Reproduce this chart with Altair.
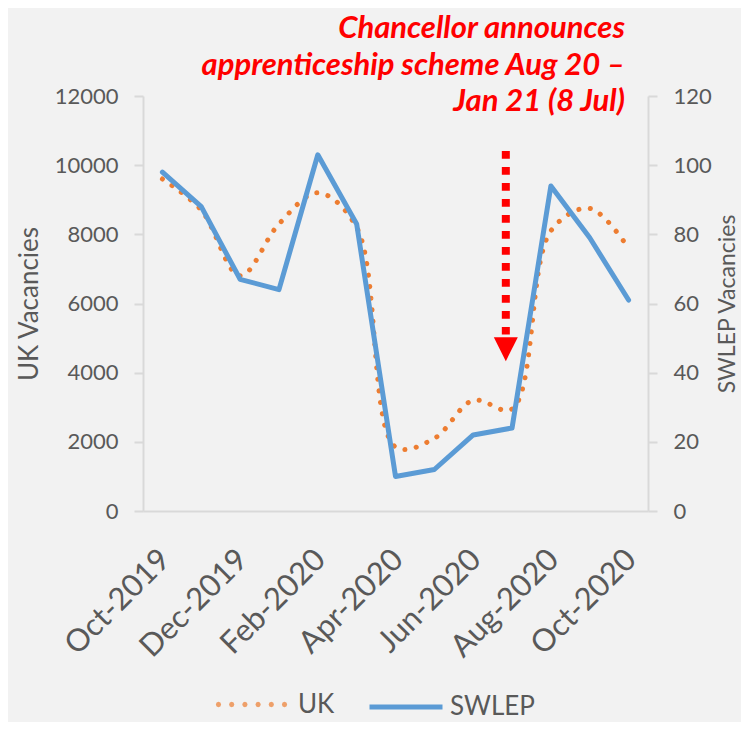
import json
import math
import altair as alt
import pandas as pd

months = ["Oct-2019", "Nov-2019", "Dec-2019", "Jan-2020", "Feb-2020", "Mar-2020",
          "Apr-2020", "May-2020", "Jun-2020", "Jul-2020", "Aug-2020", "Sep-2020", "Oct-2020"]
uk = [9600, 8700, 6800, 8300, 9200, 8200, 1850, 2100, 3200, 2950, 8100, 8750, 7600]
swlep = [98, 88, 67, 64, 103, 83, 10, 12, 22, 24, 94, 79, 61]
title_lines = ["Chancellor announces", "apprenticeship scheme Aug 20 \u2013", "Jan 21 (8 Jul)"]

# annotation arrow (on UK axis scale)
arrow_x = [8.84]
arrow_top = [10410]
arrow_bottom = [5100]
arrow_head = [4680]

df = pd.DataFrame({"idx": list(range(len(months))), "month": months, "uk": uk, "swlep": swlep})
arrow_df = pd.DataFrame({"x": arrow_x, "top": arrow_top, "bottom": arrow_bottom, "head": arrow_head})

FONT = "Lato"
TXT = "#595959"
AX = "#D9D9D9"
ORANGE = "#ED7D31"
BLUE = "#5B9BD5"

label_expr = json.dumps(months) + "[datum.value]"
x_scale = alt.Scale(domain=[-0.5, len(months) - 0.5], nice=False, zero=False)
x_axis = alt.Axis(values=list(range(0, len(months), 2)), labelExpr=label_expr, labelAngle=315,
                  labelFontSize=31, labelFont=FONT, labelColor=TXT, ticks=False, tickSize=0,
                  labelPadding=33, labelOffset=-8, domainColor=AX, domainWidth=2, grid=False,
                  title=None, labelOverlap=False)

left_axis = alt.Axis(values=list(range(0, 12001, 2000)), format="d", grid=False, domainColor=AX,
                     domainWidth=2, tickColor=AX, tickWidth=2, tickSize=9, labelFont=FONT,
                     labelFontSize=22, labelColor=TXT, labelPadding=16, title="UK Vacancies",
                     titleFont=FONT, titleFontSize=26, titleFontWeight="normal", titleColor=TXT,
                     titlePadding=12)
right_axis = alt.Axis(orient="right", values=list(range(0, 121, 20)), grid=False, domainColor=AX,
                      domainWidth=2, tickColor=AX, tickWidth=2, tickSize=9, labelFont=FONT,
                      labelFontSize=22, labelColor=TXT, labelPadding=16, title="SWLEP Vacancies",
                      titleFont=FONT, titleFontSize=23, titleFontWeight="normal", titleColor=TXT,
                      titlePadding=5, titleAngle=270, titleBaseline="top")

left_scale = alt.Scale(domain=[0, 12000], nice=False)
right_scale = alt.Scale(domain=[0, 120], nice=False)

# dotted legend symbol: six small filled octagons in a row
dot_xs = [-0.93, -0.558, -0.186, 0.186, 0.558, 0.93]
r = 0.075
parts = []
for cx in dot_xs:
    pts = [(cx + r * math.cos(k * math.pi / 4), r * math.sin(k * math.pi / 4)) for k in range(8)]
    parts.append("M" + "L".join(f"{px:.4f},{py:.4f}" for px, py in pts) + "Z")
dots_path = "".join(parts)

uk_legend = alt.Legend(title=None, orient="none", legendX=73, legendY=573, symbolType=dots_path,
                       symbolSize=5041, symbolStrokeWidth=0, labelFont=FONT,
                       labelFontSize=26, labelColor=TXT, labelOffset=11)
sw_legend = alt.Legend(title=None, orient="none", legendX=224, legendY=572, symbolType="stroke",
                       symbolSize=5329, symbolStrokeWidth=5, labelFont=FONT,
                       labelFontSize=26, labelColor=TXT, labelOffset=5)

base = alt.Chart(df)
uk_line = base.mark_line(interpolate="catmull-rom", strokeWidth=5, strokeCap="round").encode(
    x=alt.X("idx:Q", scale=x_scale, axis=x_axis),
    y=alt.Y("uk:Q", scale=left_scale, axis=left_axis),
    color=alt.value(ORANGE),
    strokeDash=alt.value([0.1, 11.5]),
)

# legend carrier for the UK series (draws no marks; its legend comes from the explicit domain)
uk_key = base.transform_calculate(series="'UK'").transform_filter("false").mark_point(
    filled=True, size=25, strokeWidth=0
).encode(
    x=alt.X("idx:Q", scale=x_scale, axis=x_axis),
    y=alt.Y("uk:Q", scale=left_scale, axis=left_axis),
    fill=alt.Fill("series:N", scale=alt.Scale(domain=["UK"], range=[ORANGE]), legend=uk_legend),
)

arrow_rule = alt.Chart(arrow_df).mark_rule(color="#FF0000", strokeWidth=8, strokeDash=[7.7, 8.3],
                                           strokeCap="butt").encode(
    x=alt.X("x:Q", scale=x_scale, axis=x_axis),
    y=alt.Y("top:Q", scale=left_scale, axis=left_axis),
    y2="bottom:Q",
)
arrow_tip = alt.Chart(arrow_df).mark_point(shape="M-1,-1L1,-1L0,1Z", filled=True, color="#FF0000",
                                           size=576, opacity=1, strokeWidth=0).encode(
    x=alt.X("x:Q", scale=x_scale, axis=x_axis),
    y=alt.Y("head:Q", scale=left_scale, axis=left_axis),
)

left_layer = alt.layer(uk_line, uk_key, arrow_rule, arrow_tip)

sw_line = base.mark_line(strokeWidth=5, strokeCap="round", strokeJoin="round").transform_calculate(
    series="'SWLEP'"
).encode(
    x=alt.X("idx:Q", scale=x_scale, axis=x_axis),
    y=alt.Y("swlep:Q", scale=right_scale, axis=right_axis),
    stroke=alt.Stroke("series:N", scale=alt.Scale(domain=["SWLEP"], range=[BLUE]), legend=sw_legend),
)

chart = alt.layer(left_layer, sw_line).resolve_scale(y="independent").properties(
    width=505,
    height=415,
    autosize=alt.AutoSizeParams(type="none"),
    padding={"left": 135, "top": 88, "right": 93, "bottom": 211},
    title=alt.TitleParams(text=title_lines, anchor="end", frame="group", font=FONT, fontSize=31,
                          fontStyle="italic", fontWeight="bold", color="#FF0000", lineHeight=36.5,
                          dx=-23, offset=-33),
    background="#F2F2F2",
).configure_view(stroke=None)

chart.save("out.html", embed_options={"renderer": "svg", "actions": False})
